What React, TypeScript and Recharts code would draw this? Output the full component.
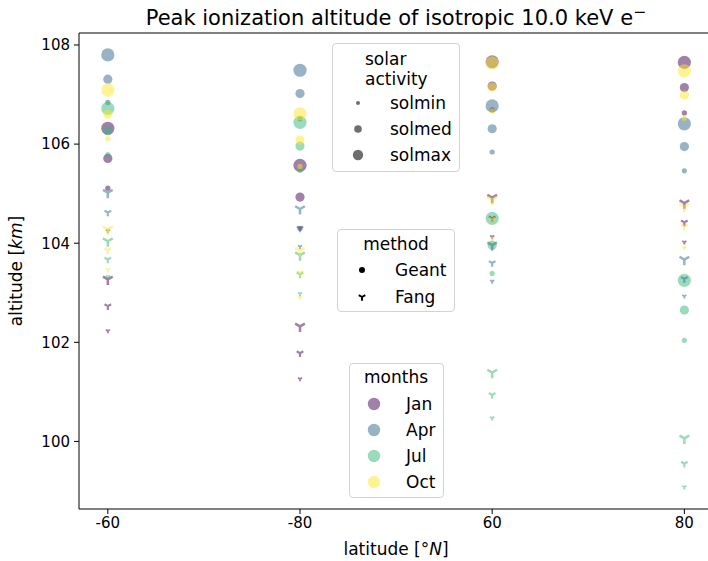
import { ScatterChart, Scatter, XAxis, YAxis, ReferenceLine } from "recharts";

const latitudes = ["-60", "-80", "60", "80"];
const months = ["Jan", "Apr", "Jul", "Oct"];
const solarLevels = ["solmin", "solmed", "solmax"];
const monthColors = ["#440154", "#31688e", "#35b779", "#fde725"];
const yTicks = [100, 102, 104, 106, 108];

// altitude per latitude: [solmin, solmed, solmax]
const geantJan = [[105.11, 105.71, 106.32], [104.3, 104.93, 105.57], [106.69, 107.17, 107.66], [106.63, 107.14, 107.65]];
const geantApr = [[106.84, 107.31, 107.8], [106.51, 107.02, 107.49], [105.84, 106.31, 106.77], [105.46, 105.95, 106.41]];
const geantJul = [[105.79, 106.27, 106.72], [105.47, 105.96, 106.44], [103.39, 103.96, 104.5], [102.04, 102.65, 103.25]];
const geantOct = [[106.11, 106.6, 107.09], [105.55, 106.08, 106.61], [106.67, 107.15, 107.64], [106.52, 106.99, 107.48]];

const fangJan = [[102.23, 102.73, 103.27], [101.26, 101.78, 102.32], [104.13, 104.5, 104.92], [104.02, 104.42, 104.81]];
const fangApr = [[104.25, 104.62, 105.02], [103.93, 104.3, 104.69], [103.23, 103.6, 103.96], [102.93, 103.28, 103.67]];
const fangJul = [[103.32, 103.67, 104.04], [102.98, 103.37, 103.76], [100.47, 100.94, 101.39], [99.08, 99.55, 100.06]];
const fangOct = [[103.46, 103.86, 104.28], [102.9, 103.4, 103.85], [104.1, 104.48, 104.88], [103.91, 104.34, 104.74]];

const geant = [geantJan, geantApr, geantJul, geantOct];
const fang = [fangJan, fangApr, fangJul, fangOct];

const circleR = [2.6, 4.6, 6.6];
const triR = [2.4, 3.8, 5.6];
const triW = [1.9, 2.2, 2.5];

const Y_MIN = 98.636;
const Y_MAX = 108.242;
const FONT = "'DejaVu Sans', sans-serif";

function pointsFor(table: number[][], s: number) {
  return table.map((vals, i) => ({ x: i, y: vals[s] }));
}

function triPath(cx: number, cy: number, r: number) {
  const dx = 0.866 * r;
  return `M${cx},${cy}L${cx},${cy + r}M${cx},${cy}L${cx - dx},${cy - 0.5 * r}M${cx},${cy}L${cx + dx},${cy - 0.5 * r}`;
}

const circleShape = (color: string, r: number) => (p: any) =>
  <circle cx={p.cx} cy={p.cy} r={r} fill={color} fillOpacity={0.5} />;

const triShape = (color: string, r: number, w: number) => (p: any) =>
  <path d={triPath(p.cx, p.cy, r)} stroke={color} strokeOpacity={0.5} strokeWidth={w} fill="none" />;

function Label({ x, y, size, children, left = false, lh = 1 }: any) {
  return (
    <div
      style={{
        position: "absolute",
        left: x,
        top: y,
        transform: left ? "translate(0,-50%)" : "translate(-50%,-50%)",
        fontSize: size,
        lineHeight: lh,
        whiteSpace: "nowrap",
      }}
    >
      {children}
    </div>
  );
}

const box = (l: number, t: number, w: number, h: number): any => ({
  position: "absolute",
  left: l,
  top: t,
  width: w,
  height: h,
  border: "1px solid #d3d3d3",
  borderRadius: 4,
  background: "rgba(255,255,255,0.8)",
  boxSizing: "border-box",
});

export default function App() {
  const series: any[] = [];
  geant.forEach((tab, m) =>
    solarLevels.forEach((_, s) =>
      series.push(
        <Scatter
          key={`g${m}${s}`}
          data={pointsFor(tab, s)}
          shape={circleShape(monthColors[m], circleR[s])}
          isAnimationActive={false}
        />
      )
    )
  );
  fang.forEach((tab, m) =>
    solarLevels.forEach((_, s) =>
      series.push(
        <Scatter
          key={`f${m}${s}`}
          data={pointsFor(tab, s)}
          shape={triShape(monthColors[m], triR[s], triW[s])}
          isAnimationActive={false}
        />
      )
    )
  );

  const tickStyle = { fontSize: 15, fill: "#000", fontFamily: FONT };
  const LG = 17;

  return (
    <div style={{ position: "absolute", left: 0, top: 0, width: 708, height: 561, background: "#fff", fontFamily: FONT, color: "#000" }}>
      <ScatterChart width={708} height={561} margin={{ top: 33, right: 0, bottom: 0, left: 0 }}>
        <XAxis
          type="number"
          dataKey="x"
          domain={[-0.15, 3.123]}
          allowDataOverflow
          ticks={[0, 1, 2, 3]}
          tickFormatter={(v: number) => latitudes[v]}
          height={52}
          tickSize={5}
          tickMargin={3}
          stroke="#000"
          tick={tickStyle}
        />
        <YAxis
          type="number"
          dataKey="y"
          domain={[Y_MIN, Y_MAX]}
          allowDataOverflow
          ticks={yTicks}
          width={79}
          tickSize={5}
          tickMargin={4}
          stroke="#000"
          tick={tickStyle}
        />
        <ReferenceLine y={Y_MAX} stroke="#000" strokeWidth={1} ifOverflow="extendDomain" />
        {series}
      </ScatterChart>

      <Label x={396} y={16} size={21}>
        Peak ionization altitude of isotropic 10.0 keV e<sup style={{ fontSize: "0.75em" }}>−</sup>
      </Label>
      <Label x={396} y={549} size={17}>
        latitude [°<i>N</i>]
      </Label>
      <div
        style={{
          position: "absolute",
          left: 16,
          top: 271,
          transform: "translate(-50%,-50%) rotate(-90deg)",
          fontSize: 17,
          lineHeight: 1,
          whiteSpace: "nowrap",
        }}
      >
        altitude [<i>km</i>]
      </div>

      {/* solar activity legend */}
      <div style={box(332, 43, 128, 129)} />
      <Label x={365} y={69} size={LG} left lh="20px">
        solar
        <br />
        activity
      </Label>
      {solarLevels.map((s, i) => (
        <div key={s}>
          <svg style={{ position: "absolute", left: 348, top: 103 + i * 26 - 10 }} width={20} height={20}>
            <circle cx={10} cy={10} r={[2, 3.8, 5.2][i]} fill="#555" fillOpacity={0.85} />
          </svg>
          <Label x={390} y={103 + i * 26} size={LG} left>{s}</Label>
        </div>
      ))}

      {/* method legend */}
      <div style={box(337, 229, 118, 83)} />
      <Label x={396} y={244} size={LG}>method</Label>
      <svg style={{ position: "absolute", left: 352, top: 260 }} width={20} height={48}>
        <circle cx={10} cy={10} r={3} fill="#000" />
        <path d={triPath(10, 37, 3.8)} stroke="#000" strokeWidth={1.9} fill="none" />
      </svg>
      <Label x={395} y={270} size={LG} left>Geant</Label>
      <Label x={395} y={297} size={LG} left>Fang</Label>

      {/* months legend */}
      <div style={box(349, 363, 95, 135)} />
      <Label x={396} y={377} size={LG}>months</Label>
      {months.map((m, i) => (
        <div key={m}>
          <svg style={{ position: "absolute", left: 364, top: 404 + i * 26 - 10 }} width={20} height={20}>
            <circle cx={10} cy={10} r={6.2} fill={monthColors[i]} fillOpacity={0.5} />
          </svg>
          <Label x={406} y={404 + i * 26} size={LG} left>{m}</Label>
        </div>
      ))}
    </div>
  );
}
